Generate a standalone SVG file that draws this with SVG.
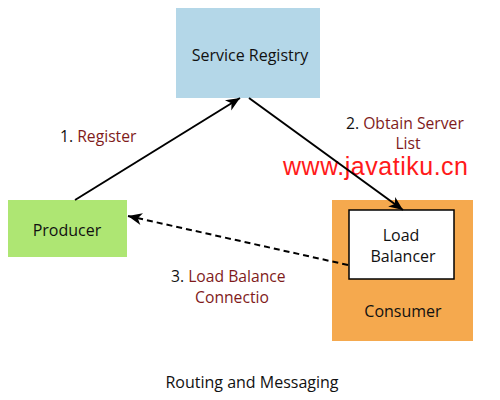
<svg xmlns="http://www.w3.org/2000/svg" width="500" height="400" viewBox="0 0 500 400">
  <style>
    text { font-family: "Open Sans", "Noto Sans", "Liberation Sans", sans-serif; fill: #111; }
    .node { font-size: 16px; text-anchor: middle; }
    .lbl { font-size: 15.7px; }
    .red { fill: #801b1b; }
    .conn { stroke: #000; stroke-width: 2; fill: none; }
    .dash { stroke-dasharray: 6 4; }
    .wm { font-family: "Liberation Sans", Arial, sans-serif; font-size: 25px; fill: #ff1a1a; }
  </style>
  <defs>
    <marker id="arrow" markerUnits="userSpaceOnUse" markerWidth="16" markerHeight="14" refX="15" refY="7" orient="auto">
      <path d="M1,1 L15,7 L1,13 L5,7 z" fill="#000"/>
    </marker>
  </defs>
  <rect width="500" height="400" fill="#fff"/>

  <g id="service-registry">
    <rect x="176" y="8" width="144" height="90" fill="#b4d7e8"/>
    <text class="node" x="250" y="61">Service Registry</text>
  </g>

  <g id="producer">
    <rect x="8" y="200" width="119" height="57" fill="#aee673"/>
    <text class="node" x="67" y="236">Producer</text>
  </g>

  <g id="consumer">
    <rect x="332" y="200" width="141" height="141" fill="#f5a94e"/>
    <text class="node" x="403" y="317">Consumer</text>
  </g>

  <g id="load-balancer">
    <rect x="349" y="210" width="105" height="69" fill="#fff" stroke="#000" stroke-width="1.5"/>
    <text class="node" x="401" y="241">Load</text>
    <text class="node" x="403" y="262">Balancer</text>
  </g>

  <text class="wm" x="283" y="175" textLength="185">www.javatiku.cn</text>

  <g id="connectors">
    <line class="conn" x1="75" y1="200" x2="240" y2="98" marker-end="url(#arrow)"/>
    <line class="conn" x1="249" y1="98" x2="403" y2="210" marker-end="url(#arrow)"/>
    <line class="conn dash" x1="348" y1="265" x2="128" y2="216" marker-end="url(#arrow)"/>
  </g>

  <g id="labels">
    <text class="lbl" x="60" y="142">1. <tspan class="red">Register</tspan></text>
    <text class="lbl" x="346" y="129">2. <tspan class="red">Obtain Server</tspan></text>
    <text class="lbl red" x="408" y="149" text-anchor="middle">List</text>
    <text class="lbl" x="171" y="282">3. <tspan class="red">Load Balance</tspan></text>
    <text class="lbl red" x="232" y="303" text-anchor="middle">Connectio</text>
  </g>

  <text class="node" x="252" y="388">Routing and Messaging</text>
</svg>
